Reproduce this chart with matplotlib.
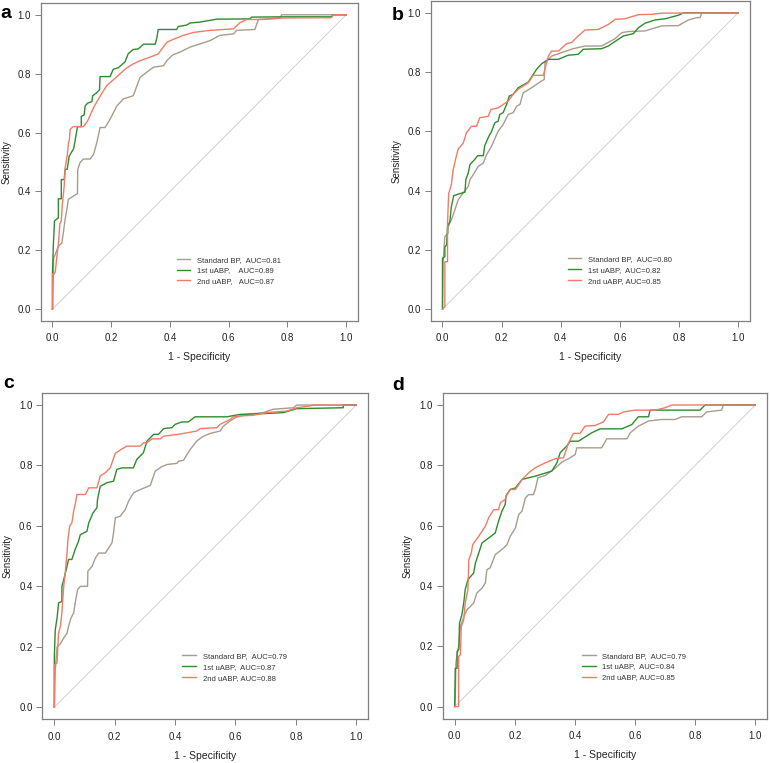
import matplotlib
matplotlib.use('Agg')
import matplotlib.pyplot as plt

plt.rcParams['font.family'] = ['Liberation Sans', 'DejaVu Sans']

# ---- panel a ----
a_std_x = [0, 0.003, 0.004, 0.009, 0.02, 0.032, 0.037, 0.043, 0.049, 0.054, 0.071, 0.085, 0.086, 0.094, 0.105, 0.128, 0.14, 0.151,
           0.162, 0.179, 0.196, 0.219, 0.241, 0.275, 0.298, 0.321, 0.344, 0.378, 0.389, 0.41, 0.434, 0.468, 0.502, 0.536,
           0.57, 0.616, 0.627, 0.689, 0.701, 0.774, 0.78, 1.0]
a_std_y = [0, 0.12, 0.174, 0.185, 0.214, 0.225, 0.26, 0.305, 0.339, 0.373, 0.384, 0.393, 0.475, 0.498, 0.51, 0.51, 0.526, 0.566,
           0.617, 0.617, 0.645, 0.69, 0.714, 0.725, 0.787, 0.805, 0.822, 0.827, 0.844, 0.864, 0.873, 0.89, 0.901, 0.912,
           0.93, 0.935, 0.947, 0.95, 0.984, 0.989, 1.0, 1.0]
a_1st_x = [0, 0, 0.003, 0.007, 0.02, 0.02, 0.03, 0.03, 0.04, 0.043, 0.05, 0.057, 0.072, 0.08, 0.085, 0.098, 0.098, 0.108, 0.111,
           0.12, 0.134, 0.137, 0.15, 0.16, 0.162, 0.196, 0.207, 0.224, 0.247, 0.258, 0.275, 0.292, 0.31, 0.35, 0.355, 0.36,
           0.423, 0.428, 0.457, 0.468, 0.502, 0.559, 0.672, 0.678, 0.786, 0.95, 0.955, 1.0]
a_1st_y = [0, 0.12, 0.22, 0.30, 0.31, 0.375, 0.375, 0.44, 0.44, 0.475, 0.475, 0.52, 0.545, 0.59, 0.62, 0.62, 0.655, 0.66, 0.69,
           0.70, 0.705, 0.725, 0.735, 0.745, 0.79, 0.79, 0.815, 0.82, 0.84, 0.868, 0.882, 0.884, 0.9, 0.9, 0.92, 0.95,
           0.95, 0.96, 0.965, 0.972, 0.975, 0.985, 0.986, 0.992, 0.993, 0.993, 1.0, 1.0]
a_2nd_x = [0, 0, 0.007, 0.01, 0.015, 0.02, 0.023, 0.025, 0.03, 0.033, 0.04, 0.043, 0.05, 0.054, 0.058, 0.06, 0.07, 0.105,
           0.12, 0.14, 0.16, 0.185, 0.213, 0.253, 0.275, 0.298, 0.332, 0.36, 0.39, 0.41, 0.445, 0.48, 0.536, 0.616,
           0.638, 0.661, 0.72, 0.786, 0.95, 0.956, 1.0]
a_2nd_y = [0, 0.12, 0.12, 0.13, 0.18, 0.22, 0.26, 0.29, 0.30, 0.35, 0.42, 0.48, 0.52, 0.56, 0.58, 0.61, 0.62, 0.62,
           0.64, 0.685, 0.72, 0.76, 0.784, 0.82, 0.833, 0.844, 0.856, 0.867, 0.907, 0.916, 0.93, 0.94, 0.947, 0.952,
           0.973, 0.984, 0.984, 0.989, 0.99, 1.0, 1.0]

# ---- panel b ----
b_std_x = [0, 0.002, 0.008, 0.019, 0.019, 0.03, 0.042, 0.053, 0.07, 0.087, 0.093, 0.104, 0.121, 0.138, 0.149, 0.166, 0.188,
           0.205, 0.222, 0.239, 0.251, 0.262, 0.273, 0.301, 0.335, 0.344, 0.347, 0.369, 0.403, 0.442, 0.482, 0.538,
           0.584, 0.606, 0.629, 0.685, 0.708, 0.742, 0.798, 0.832, 0.86, 0.871, 0.877, 1.0]
b_std_y = [0, 0.16, 0.245, 0.256, 0.279, 0.301, 0.335, 0.369, 0.392, 0.414, 0.437, 0.454, 0.482, 0.493, 0.521, 0.55, 0.6,
           0.623, 0.657, 0.663, 0.685, 0.691, 0.73, 0.747, 0.77, 0.775, 0.832, 0.854, 0.866, 0.879, 0.888, 0.888,
           0.913, 0.933, 0.937, 0.939, 0.946, 0.956, 0.957, 0.976, 0.984, 0.984, 1.0, 1.0]
b_1st_x = [0, 0, 0.008, 0.008, 0.014, 0.017, 0.025, 0.03, 0.038, 0.053, 0.076, 0.079, 0.087, 0.093, 0.109, 0.119, 0.138,
           0.143, 0.157, 0.166, 0.177, 0.188, 0.194, 0.205, 0.217, 0.226, 0.239, 0.256, 0.29, 0.318, 0.335, 0.358,
           0.392, 0.425, 0.459, 0.476, 0.538, 0.561, 0.595, 0.612, 0.646, 0.663, 0.685, 0.719, 0.753, 0.798, 0.815, 1.0]
b_1st_y = [0, 0.172, 0.177, 0.21, 0.217, 0.279, 0.296, 0.346, 0.383, 0.388, 0.395, 0.437, 0.459, 0.488, 0.505, 0.518, 0.518,
           0.552, 0.584, 0.6, 0.629, 0.634, 0.657, 0.663, 0.691, 0.719, 0.725, 0.747, 0.766, 0.809, 0.828, 0.843,
           0.843, 0.857, 0.86, 0.877, 0.879, 0.888, 0.911, 0.922, 0.93, 0.95, 0.965, 0.976, 0.98, 0.992, 1.0, 1.0]
b_2nd_x = [0, 0.008, 0.008, 0.017, 0.017, 0.021, 0.03, 0.036, 0.044, 0.053, 0.07, 0.081, 0.098, 0.115, 0.126, 0.155, 0.164,
           0.188, 0.222, 0.239, 0.256, 0.29, 0.307, 0.341, 0.358, 0.369, 0.392, 0.42, 0.437, 0.459, 0.482, 0.527,
           0.561, 0.584, 0.617, 0.663, 0.708, 0.742, 1.0]
b_2nd_y = [0, 0.008, 0.16, 0.16, 0.29, 0.39, 0.42, 0.47, 0.505, 0.54, 0.56, 0.595, 0.617, 0.617, 0.646, 0.651, 0.674,
           0.679, 0.702, 0.725, 0.742, 0.764, 0.789, 0.789, 0.854, 0.871, 0.871, 0.896, 0.9, 0.922, 0.942, 0.944,
           0.961, 0.978, 0.98, 0.994, 0.995, 0.999, 1.0]

# ---- panel c ----
c_std_x = [0, 0.003, 0.009, 0.02, 0.031, 0.042, 0.047, 0.055, 0.064, 0.069, 0.077, 0.086, 0.11, 0.111, 0.125, 0.136, 0.147,
           0.169, 0.191, 0.196, 0.202, 0.218, 0.235, 0.246, 0.262, 0.284, 0.318, 0.334, 0.356, 0.373, 0.406, 0.411,
           0.428, 0.439, 0.45, 0.472, 0.494, 0.516, 0.549, 0.56, 0.582, 0.599, 0.637, 0.692, 0.725, 0.792, 0.803, 1.0]
c_std_y = [0, 0.124, 0.2, 0.21, 0.229, 0.245, 0.267, 0.295, 0.312, 0.345, 0.389, 0.4, 0.4, 0.45, 0.466, 0.494, 0.51,
           0.51, 0.544, 0.577, 0.627, 0.632, 0.654, 0.682, 0.709, 0.72, 0.734, 0.781, 0.796, 0.803, 0.807, 0.814,
           0.817, 0.836, 0.853, 0.881, 0.897, 0.906, 0.914, 0.93, 0.947, 0.958, 0.969, 0.975, 0.986, 0.991, 1.0, 1.0]
c_1st_x = [0, 0, 0.003, 0.009, 0.014, 0.025, 0.025, 0.031, 0.042, 0.047, 0.058, 0.069, 0.08, 0.086, 0.108, 0.114, 0.128,
           0.141, 0.143, 0.152, 0.174, 0.196, 0.207, 0.224, 0.262, 0.273, 0.295, 0.307, 0.329, 0.345, 0.362, 0.389,
           0.4, 0.422, 0.444, 0.466, 0.571, 0.615, 0.703, 0.759, 0.803, 0.957, 0.957, 1.0]
c_1st_y = [0, 0.168, 0.256, 0.295, 0.345, 0.35, 0.4, 0.422, 0.466, 0.489, 0.489, 0.522, 0.549, 0.571, 0.582, 0.61, 0.643,
           0.66, 0.687, 0.731, 0.743, 0.748, 0.787, 0.792, 0.792, 0.82, 0.842, 0.881, 0.903, 0.903, 0.922, 0.925,
           0.936, 0.944, 0.944, 0.961, 0.961, 0.969, 0.972, 0.975, 0.988, 0.991, 1.0, 1.0]
c_2nd_x = [0, 0, 0.009, 0.011, 0.014, 0.02, 0.025, 0.031, 0.036, 0.042, 0.045, 0.051, 0.058, 0.064, 0.069, 0.075, 0.103,
           0.114, 0.141, 0.152, 0.169, 0.185, 0.202, 0.218, 0.24, 0.284, 0.295, 0.307, 0.323, 0.351, 0.362, 0.411,
           0.439, 0.472, 0.483, 0.538, 0.549, 0.582, 0.593, 0.615, 0.659, 0.703, 0.77, 0.803, 0.847, 0.858, 1.0]
c_2nd_y = [0, 0.14, 0.146, 0.19, 0.245, 0.267, 0.312, 0.4, 0.444, 0.51, 0.555, 0.6, 0.61, 0.649, 0.671, 0.704, 0.704,
           0.726, 0.726, 0.765, 0.776, 0.792, 0.84, 0.851, 0.864, 0.864, 0.875, 0.875, 0.888, 0.888, 0.897, 0.903,
           0.908, 0.914, 0.922, 0.925, 0.936, 0.952, 0.961, 0.964, 0.966, 0.975, 0.98, 0.991, 0.997, 1.0, 1.0]

# ---- panel d ----
d_std_x = [0, 0.002, 0.004, 0.008, 0.013, 0.019, 0.027, 0.033, 0.041, 0.052, 0.063, 0.074, 0.091, 0.102, 0.107, 0.118,
           0.135, 0.163, 0.174, 0.185, 0.202, 0.213, 0.224, 0.235, 0.246, 0.262, 0.268, 0.277, 0.301, 0.329, 0.357,
           0.379, 0.401, 0.406, 0.489, 0.506, 0.573, 0.584, 0.611, 0.645, 0.689, 0.733, 0.755, 0.822, 0.838, 0.888,
           0.894, 1.0]
d_std_y = [0, 0.033, 0.144, 0.172, 0.2, 0.266, 0.288, 0.305, 0.321, 0.332, 0.343, 0.377, 0.393, 0.41, 0.454, 0.46,
           0.504, 0.526, 0.537, 0.565, 0.592, 0.637, 0.648, 0.692, 0.703, 0.703, 0.72, 0.759, 0.766, 0.786, 0.811,
           0.822, 0.836, 0.858, 0.858, 0.888, 0.888, 0.908, 0.93, 0.947, 0.952, 0.952, 0.961, 0.961, 0.977, 0.983,
           1.0, 1.0]
d_1st_x = [0, 0.002, 0.008, 0.008, 0.014, 0.016, 0.024, 0.03, 0.035, 0.044, 0.063, 0.069, 0.08, 0.091, 0.113, 0.135, 0.146,
           0.157, 0.168, 0.171, 0.185, 0.202, 0.224, 0.246, 0.268, 0.323, 0.34, 0.351, 0.373, 0.384, 0.412, 0.456,
           0.484, 0.556, 0.589, 0.611, 0.645, 0.65, 0.816, 0.833, 1.0]
d_1st_y = [0, 0.127, 0.127, 0.183, 0.19, 0.277, 0.305, 0.343, 0.388, 0.421, 0.443, 0.476, 0.509, 0.543, 0.559, 0.576, 0.615,
           0.648, 0.67, 0.7, 0.72, 0.725, 0.753, 0.759, 0.764, 0.781, 0.808, 0.842, 0.864, 0.88, 0.88, 0.908,
           0.921, 0.921, 0.935, 0.961, 0.961, 0.983, 0.983, 1.0, 1.0]
d_2nd_x = [0, 0.013, 0.013, 0.019, 0.022, 0.03, 0.035, 0.044, 0.047, 0.055, 0.06, 0.08, 0.102, 0.113, 0.13, 0.146, 0.152,
           0.168, 0.174, 0.185, 0.202, 0.213, 0.224, 0.246, 0.268, 0.301, 0.334, 0.362, 0.379, 0.395, 0.417, 0.434,
           0.467, 0.495, 0.512, 0.545, 0.561, 0.6, 0.667, 0.7, 0.722, 1.0]
d_2nd_y = [0, 0, 0.166, 0.172, 0.266, 0.288, 0.343, 0.388, 0.487, 0.509, 0.537, 0.565, 0.598, 0.626, 0.653, 0.653, 0.676,
           0.687, 0.703, 0.72, 0.72, 0.736, 0.753, 0.775, 0.792, 0.808, 0.822, 0.825, 0.875, 0.906, 0.906, 0.93,
           0.932, 0.944, 0.969, 0.969, 0.977, 0.983, 0.983, 0.991, 1.0, 1.0]

panel_names = ['a', 'b', 'c', 'd']
std_labels = ['Standard BP,  AUC=0.81', 'Standard BP,  AUC=0.80', 'Standard BP,  AUC=0.79', 'Standard BP,  AUC=0.79']
first_labels = ['1st uABP,    AUC=0.89', '1st uABP,  AUC=0.82', '1st uABP,  AUC=0.87', '1st uABP,  AUC=0.84']
second_labels = ['2nd uABP,   AUC=0.87', '2nd uABP, AUC=0.85', '2nd uABP, AUC=0.88', '2nd uABP, AUC=0.85']

curves = [
    (a_std_x, a_std_y, a_1st_x, a_1st_y, a_2nd_x, a_2nd_y),
    (b_std_x, b_std_y, b_1st_x, b_1st_y, b_2nd_x, b_2nd_y),
    (c_std_x, c_std_y, c_1st_x, c_1st_y, c_2nd_x, c_2nd_y),
    (d_std_x, d_std_y, d_1st_x, d_1st_y, d_2nd_x, d_2nd_y),
]

# axes boxes in figure fraction [left, bottom, width, height]
boxes = [
    [0.0529, 0.5793, 0.4120, 0.4168],
    [0.5593, 0.5793, 0.4147, 0.4194],
    [0.0549, 0.0573, 0.4234, 0.4277],
    [0.5749, 0.0581, 0.4216, 0.4269],
]
# panel letters, baseline position in figure fraction
label_pos = [(0.001, 0.9764), (0.509, 0.9738), (0.004, 0.4915), (0.510, 0.4889)]

col_std = '#A89C8E'
col_1st = '#2E8B2E'
col_2nd = '#F07C68'
frame_col = '#7F7F7F'
text_col = '#222222'

fig = plt.figure(figsize=(7.7, 7.63), dpi=100)

for i in range(4):
    ax = fig.add_axes(boxes[i])
    sx, sy, fx, fy, rx, ry = curves[i]
    ax.plot([0, 1], [0, 1], color='#D0D0D0', lw=0.7, zorder=1)
    ax.plot(sx, sy, color=col_std, lw=1.0, label=std_labels[i], zorder=2)
    ax.plot(fx, fy, color=col_1st, lw=1.0, label=first_labels[i], zorder=3)
    ax.plot(rx, ry, color=col_2nd, lw=1.0, label=second_labels[i], zorder=4)

    ax.set_xlim(-0.04, 1.04)
    ax.set_ylim(-0.04, 1.04)
    ticks = [0, 0.2, 0.4, 0.6, 0.8, 1.0]
    ax.set_xticks(ticks)
    ax.set_yticks(ticks)
    ax.set_xticklabels(['%.1f' % t for t in ticks])
    ax.set_yticklabels(['%.1f' % t for t in ticks])
    ax.tick_params(direction='out', length=4, width=0.7, color=frame_col,
                   labelsize=7, labelcolor=text_col)
    ax.tick_params(axis='x', pad=5)
    ax.tick_params(axis='y', pad=3)
    for s in ax.spines.values():
        s.set_color(frame_col)
        s.set_linewidth(0.9)
    ax.set_xlabel('1 - Specificity', fontsize=7.5, color=text_col, va='center')
    ax.set_ylabel('Sensitivity', fontsize=7, color=text_col, va='center')
    ax.xaxis.set_label_coords(0.5, -0.112)
    ax.yaxis.set_label_coords(-0.108, 0.5)

    ax.legend(loc='upper left', bbox_to_anchor=(0.423, 0.18), bbox_transform=ax.transData,
              frameon=False, fontsize=5.5, handlelength=1.8, handletextpad=0.9,
              labelspacing=0.45, borderpad=0, borderaxespad=0, labelcolor='#333333')

    fig.text(label_pos[i][0], label_pos[i][1], panel_names[i], fontsize=14, fontweight='bold',
             va='baseline', ha='left')

fig.savefig('out.png', dpi=100)
